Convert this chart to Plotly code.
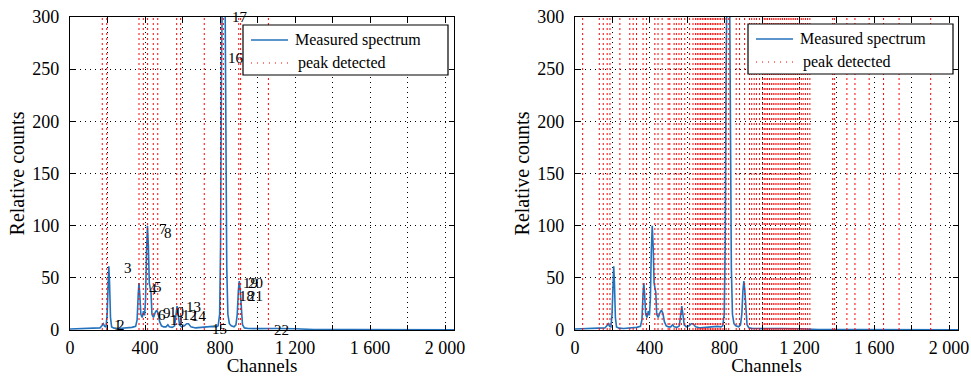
import plotly.graph_objects as go

# ---------------- data ----------------
channels = [0, 50, 100, 140, 160, 170, 178, 185, 192, 198, 203, 207, 211, 216, 222,
            235, 260, 300, 330, 350, 358, 364, 368, 372, 378, 385, 392, 398, 403,
            408, 413, 418, 423, 428, 432, 437, 445, 455, 462, 470, 478, 488, 500,
            512, 522, 530, 545, 558, 565, 571, 577, 584, 595, 610, 622, 632, 645,
            670, 700, 730, 760, 780, 790, 798, 803, 808, 814, 820, 826, 831, 836,
            842, 850, 860, 875, 885, 892, 898, 903, 908, 914, 920, 930, 950, 1000,
            1050, 1100, 1200, 1260, 1300, 1500, 1800, 2048]
counts = [1.0, 1.2, 1.3, 1.5, 2, 4, 6, 3.5, 3, 15, 45, 61, 45, 12, 3,
          1.8, 1.5, 1.8, 2.5, 3.5, 10, 35, 45, 35, 15, 12, 18, 14, 30,
          75, 100, 80, 45, 40, 36, 15, 12, 17, 19, 16, 8, 4, 3,
          3, 5, 3, 2.5, 4, 12, 23, 15, 5, 3, 4, 6, 6, 3,
          2, 2.5, 3, 3.5, 3, 4, 15, 80, 250, 400, 450, 350, 200, 60,
          15, 6, 4, 3, 5, 15, 38, 47, 38, 15, 5, 2, 1.5, 1.3,
          1.5, 1.4, 1.2, 0.8, 0.5, 0.4, 0.3, 0.3]

peaks_left = [172, 196, 368, 391, 414, 444, 468, 569, 590, 716, 803, 818,
              900, 910, 1058]

peaks_right = [41, 130, 151, 172, 187, 240, 293, 311, 329, 364, 382, 427, 444,
               466, 498, 507, 530, 542, 556, 569, 587, 613, 631, 645, 654, 663,
               672, 681, 690, 698, 707, 716, 725, 734, 743, 752, 761, 770, 779,
               791, 808, 822, 862, 880, 907, 933, 945, 958, 970, 987, 1003, 1012,
               1021, 1030, 1040, 1050, 1060, 1070, 1080, 1090, 1100, 1110, 1120,
               1130, 1140, 1150, 1160, 1170, 1180, 1190, 1200, 1210, 1220, 1232,
               1244, 1256, 1378, 1387, 1454, 1497, 1573, 1650, 1733, 1902]

label_text = [str(i) for i in range(1, 23)]
label_x = [222, 238, 275, 412, 436, 456, 466, 490, 484, 518, 524, 588, 606, 632,
           748, 830, 853, 893, 910, 936, 938, 1076]
label_y = [5, 5, 59, 39, 41, 14, 97, 93, 16, 17, 10, 14, 22, 13,
           1, 261, 300, 33, 45, 45, 33, 0]

x_tickvals = [0, 200, 400, 600, 800, 1000, 1200, 1400, 1600, 1800, 2000]
x_ticktext = ["0", "", "400", "", "800", "", "1 200", "", "1 600", "", "2 000"]
y_tickvals = [0, 50, 100, 150, 200, 250, 300]
y_max = 300
x_max = 2048

series_names = ["Measured spectrum", "peak detected"]
x_title = "Channels"
y_title = "Relative counts"

# ---------------- styling ----------------
FONT = "Liberation Serif"
BLUE = "#2472bb"
RED = "#ff0000"
W, H = 971, 376


def vlines(xs):
    xx, yy = [], []
    for c in xs:
        xx += [c, c, None]
        yy += [0, y_max, None]
    return xx, yy


fig = go.Figure()

for peaks, xa, ya in [(peaks_left, "x", "y"), (peaks_right, "x2", "y2")]:
    fig.add_trace(go.Scatter(x=channels, y=counts, mode="lines", name=series_names[0],
                             line=dict(color=BLUE, width=1.6), xaxis=xa, yaxis=ya,
                             showlegend=False))
    vx, vy = vlines(peaks)
    fig.add_trace(go.Scatter(x=vx, y=vy, mode="lines", name=series_names[1],
                             line=dict(color=RED, width=1, dash="2px,3px"),
                             xaxis=xa, yaxis=ya, showlegend=False))

axis_common = dict(showline=True, linecolor="black", linewidth=1.2, mirror="ticks",
                   ticks="inside", ticklen=5, tickcolor="black", tickwidth=1,
                   showgrid=True, gridcolor="black", gridwidth=1, griddash="1px,4px",
                   zeroline=False, automargin=False,
                   tickfont=dict(family=FONT, size=18, color="black"))

dom_y = [(H - 330) / H, (H - 17) / H]
dom_x1 = [70 / W, 454 / W]
dom_x2 = [575 / W, 958 / W]

layout = dict(
    width=W, height=H, margin=dict(l=0, r=0, t=0, b=0, autoexpand=False),
    paper_bgcolor="white", plot_bgcolor="white",
    font=dict(family=FONT, size=16, color="black"), showlegend=False,
)
for k, dom, anchor in [("xaxis", dom_x1, "y"), ("xaxis2", dom_x2, "y2")]:
    layout[k] = dict(axis_common, domain=dom, anchor=anchor, range=[0, x_max],
                     tickvals=x_tickvals, ticktext=x_ticktext, ticklabelstandoff=1,
                     title=dict(text=x_title, font=dict(family=FONT, size=19), standoff=6))
for k, anchor in [("yaxis", "x"), ("yaxis2", "x2")]:
    layout[k] = dict(axis_common, domain=dom_y, anchor=anchor, range=[0, y_max],
                     tickvals=y_tickvals, ticklabelstandoff=6,
                     title=dict(text=y_title, font=dict(family=FONT, size=20), standoff=2))

# ---- legends (drawn as a boxed key in each panel) ----
shapes = []
annotations = []


def px_x(v):
    return v / W


def px_y(v):
    return 1 - v / H


for bx, by in [(243, 25), (748, 24)]:
    shapes.append(dict(type="rect", xref="paper", yref="paper",
                       x0=px_x(bx), x1=px_x(bx + 205), y0=px_y(by + 50), y1=px_y(by),
                       line=dict(color="black", width=1.2), fillcolor="white", layer="above"))
    shapes.append(dict(type="line", xref="paper", yref="paper",
                       x0=px_x(bx + 8), x1=px_x(bx + 45), y0=px_y(by + 15), y1=px_y(by + 15),
                       line=dict(color=BLUE, width=1.6), layer="above"))
    shapes.append(dict(type="line", xref="paper", yref="paper",
                       x0=px_x(bx + 8), x1=px_x(bx + 45), y0=px_y(by + 38), y1=px_y(by + 38),
                       line=dict(color=RED, width=1, dash="1px,5px"), layer="above"))
    annotations.append(dict(x=px_x(bx + 50), y=px_y(by + 15), xref="paper", yref="paper",
                            text=series_names[0], showarrow=False, xanchor="left",
                            yanchor="middle", font=dict(family=FONT, size=16, color="black")))
    annotations.append(dict(x=px_x(bx + 53), y=px_y(by + 38), xref="paper", yref="paper",
                            text=series_names[1], showarrow=False, xanchor="left",
                            yanchor="middle", font=dict(family=FONT, size=16, color="black")))

for t, lx, ly in zip(label_text, label_x, label_y):
    annotations.append(dict(x=lx, y=ly, xref="x", yref="y", text=t, showarrow=False,
                            xanchor="left", yanchor="middle",
                            font=dict(family=FONT, size=15, color="black")))

layout["shapes"] = shapes
layout["annotations"] = annotations

fig.update_layout(**layout)
fig.write_html("out.html")
